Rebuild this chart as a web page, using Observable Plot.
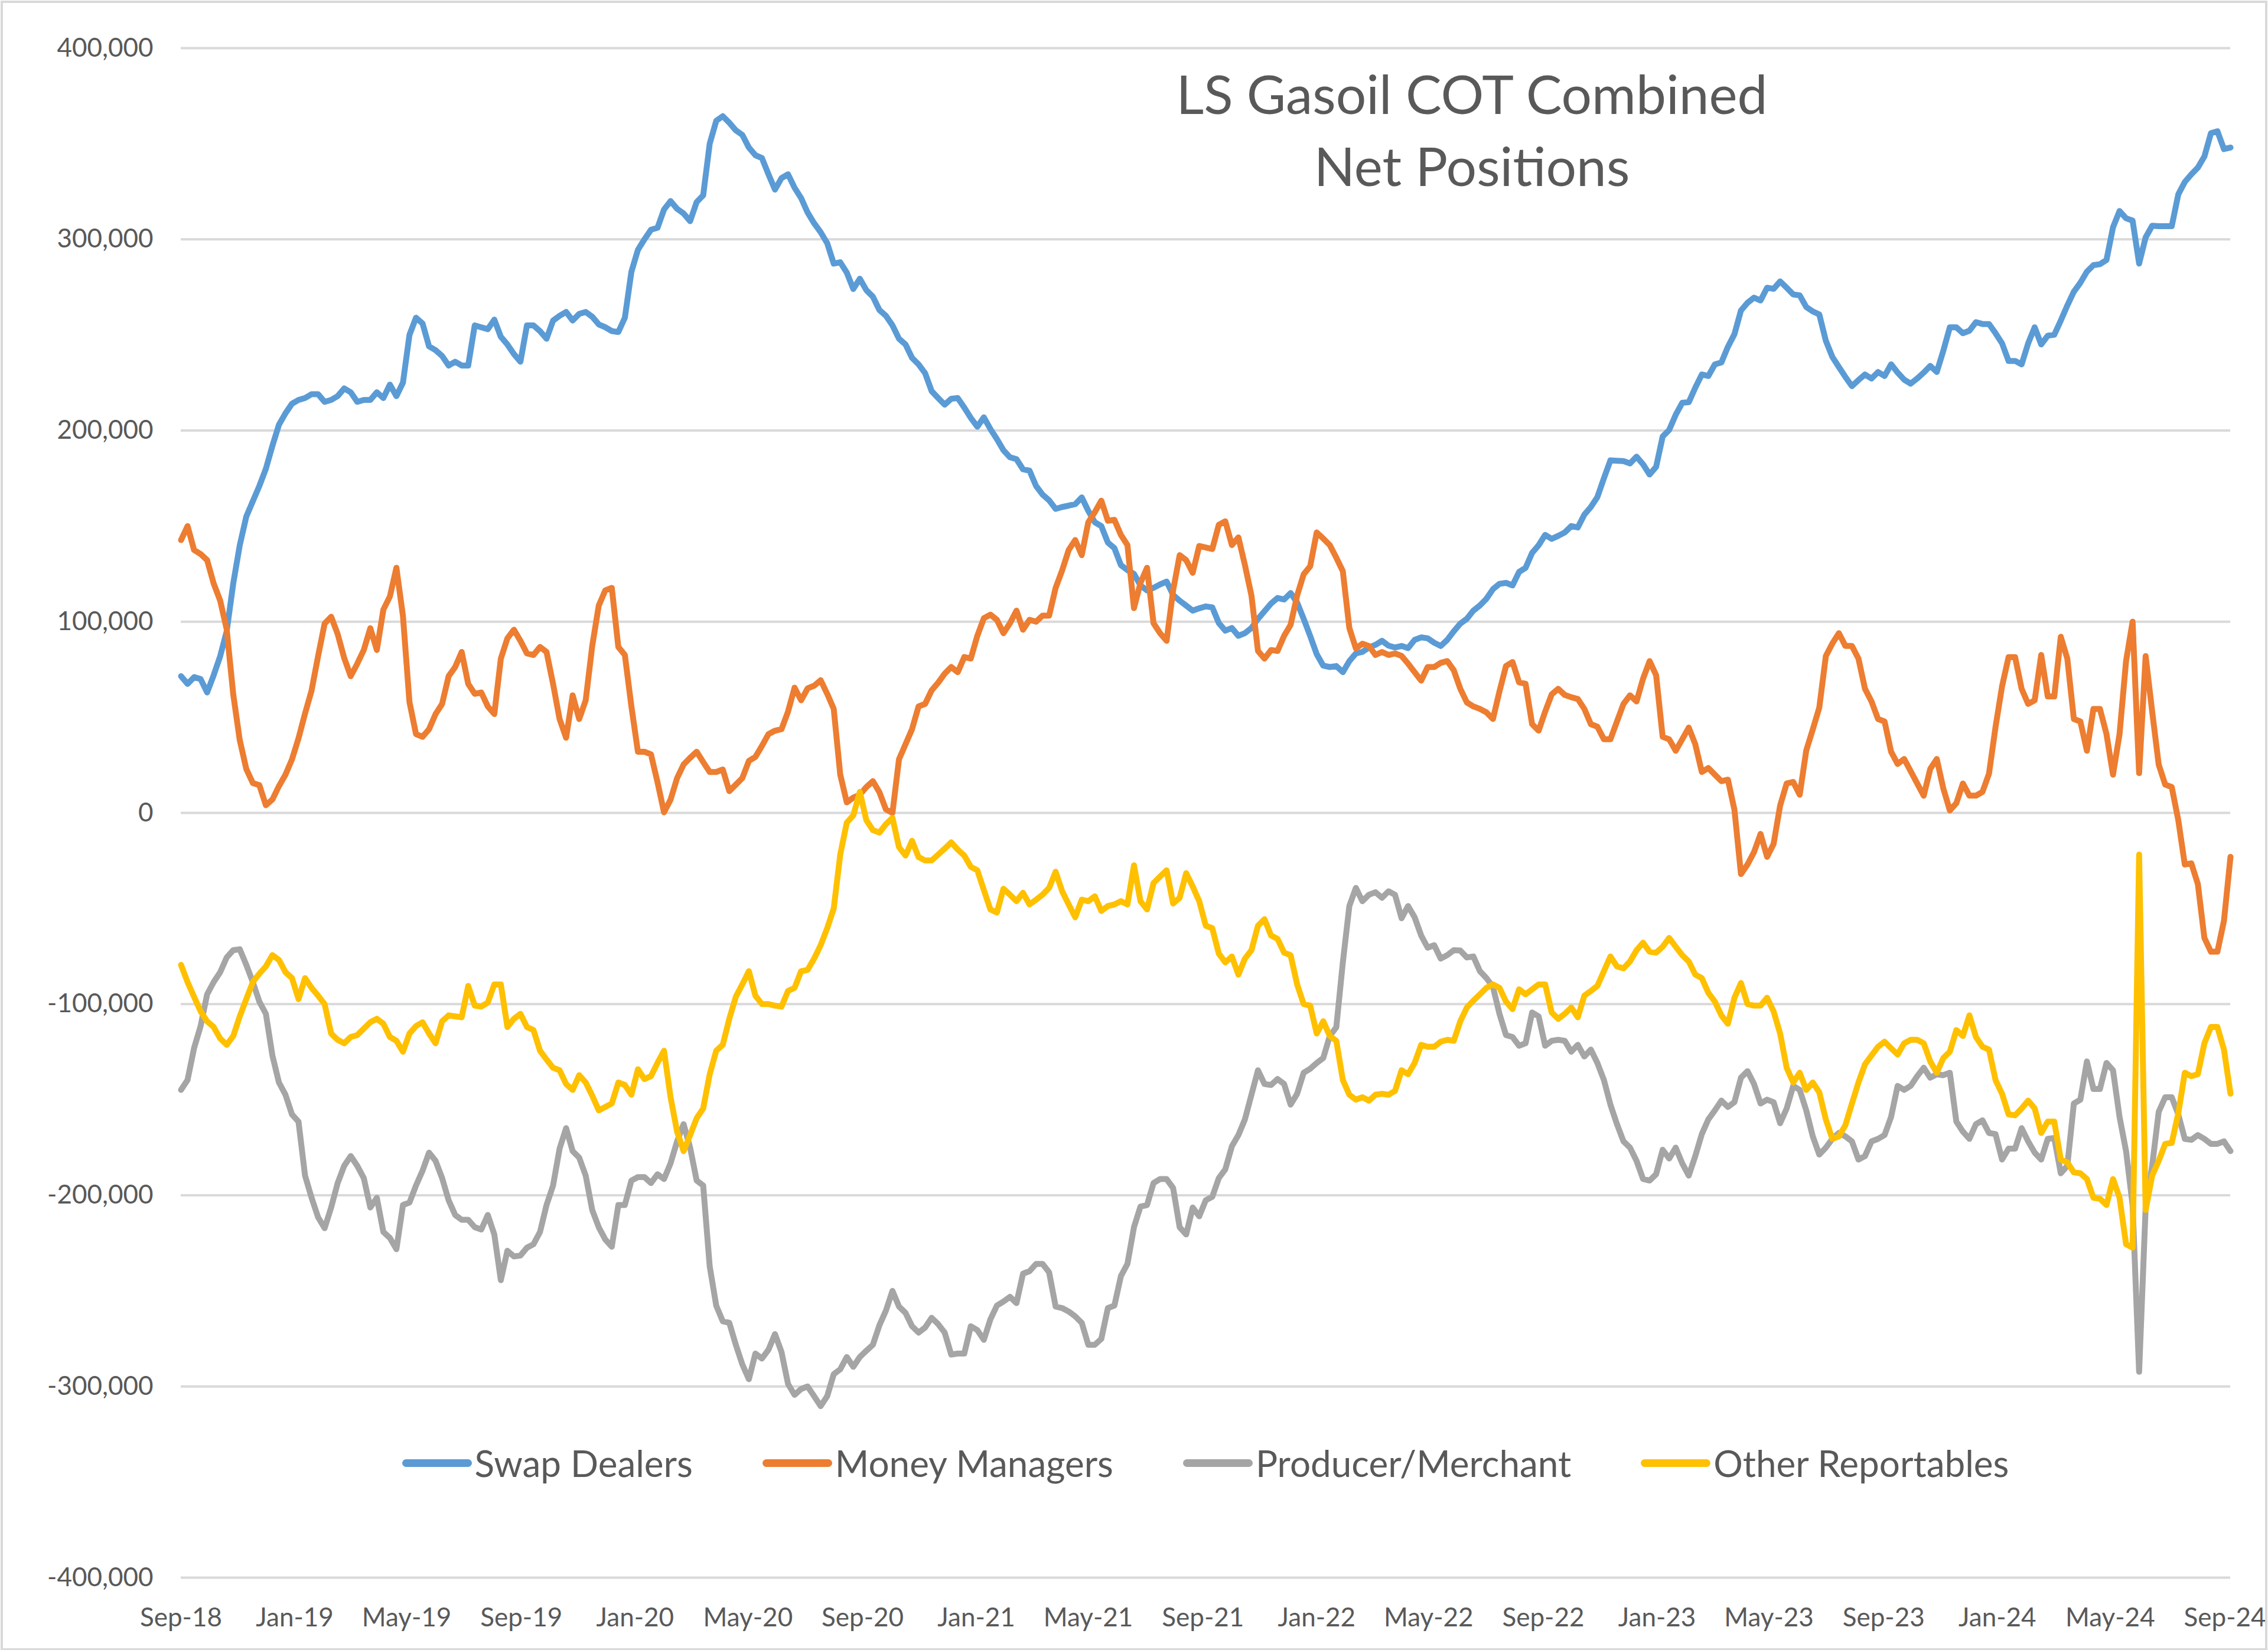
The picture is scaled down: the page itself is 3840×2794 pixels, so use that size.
<!DOCTYPE html>
<html>
<head>
<meta charset="utf-8">
<script src="https://cdn.jsdelivr.net/npm/d3@7"></script>
<script src="https://cdn.jsdelivr.net/npm/@observablehq/plot@0.6"></script>
<style>
  html, body { margin: 0; padding: 0; background: #ffffff; }
  #wrap { position: relative; width: 3840px; height: 2794px; overflow: hidden; font-family: Lato, sans-serif; color: #595959; background: #fff; }
  #wrap svg { position: absolute; left: 0; top: 0; }
  #border { position: absolute; left: 1px; top: 1px; width: 3830px; height: 2786px; border: 4px solid #d9d9d9; pointer-events: none; }
  #title { position: absolute; left: 1892px; width: 1200px; top: 97px; text-align: center; font-size: 91px; line-height: 122px; color: #595959; }
  #legend { position: absolute; left: 306px; width: 3470px; top: 2440px; display: flex; justify-content: center; align-items: center; gap: 118px; font-size: 62px; line-height: 74px; color: #595959; }
  .item { display: flex; align-items: center; }
  .sw { width: 118px; height: 13px; border-radius: 6.5px; margin-right: 5px; }
</style>
</head>
<body>
<div id="wrap"></div>
<script>
// ---------- data (values in thousands of lots), weekly from 4 Sep 2018 ----------
const firstWeek = "2018-09-04";
const seriesNames = ["Swap Dealers", "Money Managers", "Producer/Merchant", "Other Reportables"];
const seriesColors = ["#5B9BD5", "#ED7D31", "#A5A5A5", "#FFC000"];
const yTicks = [-400000, -300000, -200000, -100000, 0, 100000, 200000, 300000, 400000];
const xTickLabels = ["Sep-18","Jan-19","May-19","Sep-19","Jan-20","May-20","Sep-20","Jan-21","May-21","Sep-21",
                     "Jan-22","May-22","Sep-22","Jan-23","May-23","Sep-23","Jan-24","May-24","Sep-24"];

const swapDealers = [
  71.5,67.5,71,70,63,72,82,95,120,140, 155,163,171,180,192,203,209,214,216,217,
  219,219,215,216,218,222,220,215,216,216, 220,217,224,218,225,250,259,256,244,242,
  239,234,236,234,234,255,254,253,258,249, 245,240,236,255,255,252,248,257.5,260,262,
  257.5,261,262,259.5,255.5,254,252,251.5,259,283, 294.5,300,305,306,315.6,320,316,313.5,309.5,319.5,
  323,350,362,364.4,361,357,354.6,348,344,342.5, 334,326,332,334,327,321.6,314,308.4,303.7,298,
  287.3,288,282.6,274,279.4,273.4,
  270,263,260,255,248,245,238,234.6,230,220.6, 217,213.5,216.6,217,212,206.6,202,206.9,200.8,195.5,
  189.7,186,185,179.7,179,171,166.5,163.5,159,160, 160.7,161.5,165,158,152,150,141.4,138.5,129.6,127,
  125,119,116.4,117.7,119.5,121,114,111,108.4,105.8, 107,108,107.5,99.3,95.3,96.7,92.6,94,96.7,101.5,
  105.5,109.5,112.4,111.6,115,110,101.5,92.5,83,77, 76.3,76.8,73.6,79.4,83.4,84.2,86.5,87.9,90,87.5,
  86.5,87.3,86.2,90.5,91.8,91.3,89,87.3,90.5,95, 99,101.5,105.8,108.5,112,117,119.8,120.3,119,126,
  128.2,136,140,
  145.4,143.3,144.9,146.7,150,149.3,156,160,165.2,175, 184.4,184.2,184,182.8,186.3,182.3,177,181,196.8,200.3,
  208.2,214.5,214.8,222.4,229.3,228.5,234.6,235.6,243.8,250.4, 262.8,266.8,269.5,268,274.7,274.1,278,274.7,271.2,270.7,
  264.6,262.3,260.7,247,238.5,233.2,228,223.2,226.4,229.3, 227.2,230.6,228.5,234.6,230.3,226.6,224.5,227.2,230.3,233.8,
  230.6,241.7,254,254,250.9,252.2,256.7,255.7,255.7,250.9, 245.6,236.4,236.4,234.6,245.6,254,245,249.6,250.1,257.5,
  265.4,272.6,277.3,283.1,286.5,287,289.2,306.3,314.8,311, 309.8,287.3,301,307.1,306.9,306.9,306.9,323.5,330,334,
  337.5,343.3,355.5,356.5,347.2,348
];

const moneyManagers = [
  142.7,150,137.5,135.4,132.2,120,111,96,62,38, 23,15.6,14.5,4,7,14,20,28,39,52,
  64,82,99,102.6,93.5,81,71.5,78,85.2,96.6, 85.2,106.3,113.2,128.2,103,58,41.2,39.8,43.8,51.7,
  57,71.5,76.3,84.2,67.5,62.3,63,55.7,51.7,80.7, 91.3,95.8,90,83.4,82.6,86.8,84.2,67.5,49.1,39.3,
  61.5,49.1,58.9,87.3,108.4,116.4,117.7,86.8,82.6,55.7, 32,32,30.6,16.1,0.3,6.9,18.2,25.3,28.8,32,
  26.6,21.4,21.4,22.7,11.4,14.8,18.2,27.2,29.3,35, 41.2,43,43.8,53,65.5,58.9,65.1,66.5,69.4,62.3,
  54.4,20,5.5,8,9.5,13.5,
  16.6,10.8,1.8,0,28,35.9,43.8,55.7,57,64.1, 68.1,72.8,76.3,73.6,81.5,80.7,92.6,101.8,103.7,101,
  94,99.2,105.8,95.8,101,100,103.2,103.2,117.7,126.9, 137.5,142.7,134.8,152,157.3,163.3,152.8,153.3,145.4,140.1,
  107.1,120.3,128.2,99.2,94,90,116.4,134.8,132.2,125.6, 139.6,138.8,138,150.7,152.5,140.1,144.1,129.6,113.7,84.7,
  80.7,85.2,84.7,92.6,98.4,113.7,124.8,129,146.7,143.5, 140.1,133.5,126.4,96.7,86,88.5,87.3,82.6,84.2,82.6,
  83.4,82.1,78.1,73.6,69.2,76.3,76.3,78.5,79.4,74.6, 64.9,57.8,55.7,54.4,52.6,49.1,63.6,76.8,78.9,68.3,
  67.5,46.4,43,
  53,62,64.9,61.7,60.5,59.6,54.4,46.4,45.1,38.5, 38.5,47.8,57,61.5,58.3,70.2,79.4,72,39.8,38.5,
  32.5,38.5,44.6,35.9,21.4,23.5,20,16.6,17.4,1.6, -32,-27,-20.5,-11,-23,-16.2,3.8,15.4,16.2,9.5,
  32.6,43.6,55.1,82,88.6,94,87.3,87.3,80.7,64.9, 58.3,49.1,47.8,32,25.6,28.2,21.8,15.4,9,23,
  28.2,12.8,1.3,5.1,15.4,9,9,11,20.5,44.9, 66.2,81.5,81.5,64.9,57,58.9,82.6,60.9,60.9,92.1,
  80.7,49.1,47.8,32.5,54.4,54.4,41.2,20,41.2,79.4, 100,20.8,82,53,25.3,14.8,13.5,-3.8,-27,-26.4,
  -37.2,-65.4,-72.6,-72.6,-56.4,-23
];

const producerMerchant = [
  -144.9,-139.7,-123,-111.5,-94.9,-88.5,-83.3,-75.6,-71.8,-71.3, -79.5,-88.5,-98.7,-105.1,-126.9,-141,-147.4,-157.7,-161.5,-189.7,
  -201.3,-211.5,-217.2,-206.4,-193.6,-184.6,-179.5,-184.6,-191,-206.4, -201.3,-219.2,-222.3,-228.2,-205.1,-203.8,-194.9,-187.2,-177.7,-182,
  -191,-202.6,-210.3,-212.8,-212.8,-216.7,-217.9,-210.3,-220.5,-244.4, -229,-232,-231.5,-227.4,-225.6,-219.2,-205.1,-194.9,-175.6,-164.9,
  -176.9,-180.3,-189.7,-207.7,-216.7,-223.1,-226.9,-205.1,-205.1,-192.3, -190.5,-190.5,-193.6,-189,-191.5,-183.3,-171.8,-162.8,-175.1,-192.3,
  -194.9,-237.2,-257.7,-265.9,-266.7,-278.2,-288.5,-296.2,-282.8,-285.4, -280.8,-272.6,-282,-298.7,-304.4,-301.3,-300,-305.1,-310.3,-305.1,
  -293.6,-291,-284.6,-289.7,-284.6,-281.3,
  -278.2,-268,-260.3,-250,-258.2,-261.5,-268.5,-271.8,-269.2,-264.1, -267.4,-271.8,-283.3,-282.8,-282.8,-268.5,-270.5,-275.6,-264.9,-257.7,
  -255.6,-253.1,-256.4,-241,-239.7,-235.9,-235.9,-240.3,-258.2,-259, -260.8,-263.3,-266.7,-278.2,-278.2,-275.1,-259,-257.7,-242.3,-235.9,
  -216.7,-205.9,-205.1,-193.6,-191.5,-191.5,-196.2,-216.7,-220.5,-206.4, -211,-202.6,-200.8,-191,-186.4,-174.4,-168.5,-160.3,-147.4,-134.6,
  -141.8,-142.3,-139.2,-141.8,-152.6,-146.9,-135.9,-133.8,-130.8,-128.2, -116.7,-112.1,-78.2,-48.7,-39.2,-46.2,-42.8,-41.5,-44.4,-41,
  -42.8,-55.1,-48.7,-54.6,-64.1,-70.5,-69.2,-76.2,-74.4,-71.8, -72,-75.6,-75.1,-82.8,-86.4,-91,-105.1,-116.2,-117.2,-121.8,
  -120.5,-104.4,-106.4,
  -121.8,-119.2,-118.7,-119.2,-124.9,-121.3,-127.4,-123.8,-130.8,-139.7, -152.6,-162.8,-171.8,-175.1,-182,-191.5,-192.3,-189,-176.2,-180.8,
  -175.1,-183.3,-189.7,-179.5,-168,-160.3,-155.6,-150.5,-153.8,-151.3, -138.5,-135.1,-141.8,-152,-150,-151.3,-162.3,-154.6,-142.8,-144.9,
  -155.6,-169.2,-178.7,-175.1,-170.5,-167.4,-169.2,-171.8,-181.3,-179.5, -171.8,-170.5,-168.5,-159,-142.8,-144.9,-142.8,-137.7,-133.3,-138.5,
  -136.7,-137.2,-135.9,-161.5,-166.7,-170.5,-162.8,-160.8,-167.4,-168, -181.3,-175.6,-175.6,-164.9,-171.8,-177.7,-181.3,-170.5,-170,-188.5,
  -184.6,-152,-150,-130,-144.4,-144.4,-130.8,-134.6,-159,-176.9, -205,-292.3,-206.4,-184.6,-156.4,-148.7,-148.7,-157.7,-170.5,-171,
  -168.5,-170.5,-173.1,-173.1,-171.8,-176.9
];

const otherReportables = [
  -79.5,-88.5,-96.2,-103.8,-109,-112,-118,-121.3,-116.7,-106.4, -97.4,-88.5,-84.1,-80.3,-74.4,-76.9,-83.3,-86.4,-97.4,-86.4,
  -91.5,-95.6,-100,-115.4,-118.7,-120.5,-117.2,-116.2,-112.8,-109.5, -107.7,-110.3,-117.2,-119.2,-124.9,-115.4,-111.5,-109.5,-115.4,-120.5,
  -109,-105.9,-106.4,-106.9,-90.5,-100.8,-101.3,-99.2,-89.7,-89.7, -112,-107.7,-105.1,-112,-113.6,-124.4,-129,-133.3,-134.6,-141.8,
  -144.9,-137.2,-141,-147.9,-155.6,-153.8,-152,-141,-142.3,-147.4, -134.1,-139.2,-137.7,-130.8,-124.4,-148.7,-166.7,-176.9,-168.5,-159.7,
  -154.6,-136.7,-124.4,-121.3,-107.7,-96.2,-89.7,-82.8,-95.6,-100, -100,-100.8,-101.3,-93.1,-91.5,-82.8,-82.1,-76.2,-69.2,-60.3,
  -50,-21.8,-5.1,-1.3,11,-3.8,
  -9,-10.3,-5.9,-2.6,-17.9,-22.3,-14.6,-23.1,-24.9,-24.9, -21.8,-18.7,-15.4,-19.2,-22.3,-28.2,-30,-40.3,-50.5,-52.1,
  -39.7,-42.8,-46.2,-41.8,-47.9,-45.4,-42.8,-39.2,-30.8,-41, -47.9,-54.6,-45.4,-46.2,-43.6,-51.3,-48.7,-47.9,-46.2,-47.9,
  -27.4,-46.2,-50.5,-36.7,-33.3,-30,-47.4,-44.4,-31.5,-38.5, -46.2,-59,-60.3,-73.6,-78.2,-75.1,-84.6,-76.2,-71.8,-59,
  -55.6,-64.1,-65.9,-73.1,-74.4,-89.7,-100,-100.8,-115.4,-109, -116.7,-119.2,-139.7,-147.4,-150,-148.7,-150.5,-147.4,-146.9,-147.4,
  -145.4,-134.6,-136.7,-130.8,-121.3,-122.3,-122.3,-119.7,-118.7,-119.2, -109,-101.8,-98.2,-94.9,-91.5,-89.7,-91.5,-98.7,-102.6,-92.3,
  -94.9,-92.3,-89.7,
  -89.7,-104.4,-107.7,-105.1,-101.8,-106.9,-95.6,-93.1,-90.5,-82.8, -75.1,-80.3,-81.3,-77.7,-71.8,-67.9,-72.6,-73.1,-70,-65.4,
  -70,-74.4,-77.7,-84.6,-86.4,-94.1,-98.7,-105.9,-110.3,-96.7, -89,-100,-100.8,-100.8,-96.7,-103.8,-115.4,-133.3,-141,-135.9,
  -144.9,-141,-146.2,-160.3,-170.5,-169.2,-163.3,-152,-141,-131.5, -126.9,-122.3,-119.7,-123.1,-126.4,-120.5,-118.7,-118.7,-120.5,-130,
  -135.9,-128.2,-124.9,-113.6,-116.7,-105.9,-117.2,-122.3,-123.8,-139.7, -146.9,-157.7,-158.2,-154.6,-150.5,-154.6,-167.4,-161.5,-161.5,-181.3,
  -182.8,-188,-188.5,-191.5,-201.3,-201.8,-205.1,-191.5,-201.3,-225.6, -227.4,-21.8,-207.7,-189.7,-182,-173.1,-172.6,-157.2,-135.9,-137.7,
  -136.7,-120.5,-112,-112,-123.8,-146.9
];

// ---------- build ----------
const start = d3.utcParse("%Y-%m-%d")(firstWeek);
const seriesValues = [swapDealers, moneyManagers, producerMerchant, otherReportables];
const nWeeks = d3.max(seriesValues, s => s.length);
const weekDates = d3.range(nWeeks).map(i => d3.utcDay.offset(start, 7 * i));
const rowsFor = vals => vals.map((v, i) => ({date: weekDates[i], value: v * 1000}));

const parseTick = d3.utcParse("%b-%y");
const xTickDates = xTickLabels.map(l => d3.utcDay.offset(parseTick(l), start.getUTCDate() - 1));
const fmtNum = d3.format(",");
const yFmt = v => v < 0 ? "-" + fmtNum(-v) : fmtNum(v);

const W = 3840, H = 2794;
const chart = Plot.plot({
  width: W, height: H,
  marginLeft: 306, marginRight: 64, marginTop: 81, marginBottom: 123,
  style: {fontFamily: "Lato, sans-serif", fontSize: "44px", color: "#595959", background: "transparent", overflow: "visible"},
  x: {type: "utc", domain: [start, weekDates[nWeeks - 1]], ticks: xTickDates, tickFormat: d3.utcFormat("%b-%y"), tickSize: 0, tickPadding: 51, label: null},
  y: {domain: [-400000, 400000], ticks: yTicks, tickFormat: yFmt, tickSize: 0, tickPadding: 47, label: null},
  marks: [
    Plot.ruleY(yTicks, {stroke: "#d9d9d9", strokeWidth: 4}),
    ...seriesValues.map((vals, k) => Plot.lineY(rowsFor(vals), {
      x: "date", y: "value", stroke: seriesColors[k], strokeWidth: 10,
      strokeLinejoin: "round", strokeLinecap: "round"
    }))
  ]
});

const wrap = document.getElementById("wrap");
wrap.appendChild(chart);

const border = document.createElement("div");
border.id = "border";
wrap.appendChild(border);

const title = document.createElement("div");
title.id = "title";
title.innerHTML = "LS Gasoil COT Combined<br>Net Positions";
wrap.appendChild(title);

const legend = document.createElement("div");
legend.id = "legend";
seriesNames.forEach((name, k) => {
  const item = document.createElement("div");
  item.className = "item";
  const sw = document.createElement("span");
  sw.className = "sw";
  sw.style.background = seriesColors[k];
  const tx = document.createElement("span");
  tx.textContent = name;
  item.appendChild(sw);
  item.appendChild(tx);
  legend.appendChild(item);
});
wrap.appendChild(legend);
</script>
</body>
</html>
